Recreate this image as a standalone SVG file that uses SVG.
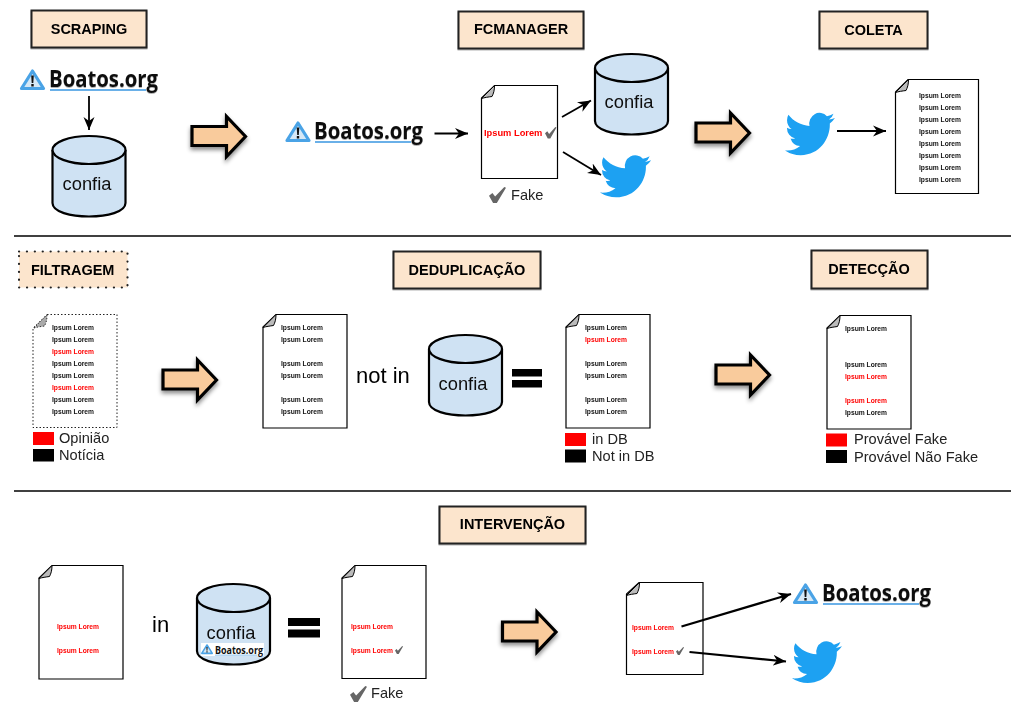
<svg xmlns="http://www.w3.org/2000/svg" width="1025" height="721" viewBox="0 0 1025 721">
<style>
text{font-family:"Liberation Sans",Arial,sans-serif;fill:#111}
.title{font-size:14.500px;font-weight:bold;text-anchor:middle;fill:#000;filter:url(#blur)}
.box{fill:#fce5cd;stroke:#222;stroke-width:2;filter:url(#soft)}
.dotted{fill:#fce5cd;stroke:#222;stroke-width:2.2;stroke-dasharray:.1 7.800;stroke-linecap:round}
.page{fill:#fff;stroke:#000;stroke-width:1.200}
.pagedot{fill:#fff;stroke:#222;stroke-width:1;stroke-dasharray:1.500 2}
.l{font-size:6.700px;font-weight:bold;fill:#111;filter:url(#blur)}
.r{font-size:6.700px;font-weight:bold;fill:#f00;filter:url(#blur)}
.leg{font-size:14.600px;fill:#222;filter:url(#blur)}
.logo{font-family:"Open Sans","Noto Sans",sans-serif;font-weight:bold;font-size:23px;fill:#111;filter:url(#soft)}
.db{font-size:18.300px;text-anchor:middle;fill:#111;filter:url(#blur)}
.big{font-size:22px;fill:#000;filter:url(#blur)}
.sep{stroke:#000;stroke-width:1.600}
.conn path{fill:none;stroke:#000;stroke-width:1.800;marker-end:url(#head)}
.conn .thick{stroke-width:2.200}
</style>
<defs>
<filter id="blur" x="-5%" y="-20%" width="110%" height="140%"><feGaussianBlur stdDeviation=".3"/></filter>
<filter id="soft" x="-20%" y="-20%" width="140%" height="150%"><feDropShadow dx="0" dy="1" stdDeviation=".7" flood-color="#000" flood-opacity=".3"/></filter>
<filter id="shadow" x="-20%" y="-20%" width="140%" height="150%"><feDropShadow dx="0" dy="3" stdDeviation="2" flood-color="#000" flood-opacity=".45"/></filter>
<marker id="head" markerUnits="userSpaceOnUse" markerWidth="16" markerHeight="12" refX="13" refY="6" orient="auto"><path d="M0,0.500 L13,6 L0,11.500 L4,6 Z" fill="#000"/></marker>
<g id="bigarrow"><path d="M0,10 H34.500 V0 L53.500,20 L34.500,40 V29 H0 Z" fill="#f9cb9c" stroke="#000" stroke-width="3.200" stroke-linejoin="miter" filter="url(#shadow)"/></g>
<g id="cyl"><path d="M0,14 V67 C0,85 73,85 73,67 V14" fill="#cfe2f3" stroke="#000" stroke-width="2.200"/><ellipse cx="36.500" cy="14" rx="36.500" ry="14" fill="#cfe2f3" stroke="#000" stroke-width="2.200"/></g>
<path id="fold" d="M0,13 L13,0 C13,5 12,8 10.500,11 C7,11.500 3,12 0,13 Z" fill="#bbb" stroke="#000" stroke-width="1"/>
<path id="folddot" d="M0,13 L13,0 C13,5 12,8 10.500,11 C7,11.500 3,12 0,13 Z" fill="#aaa" stroke="#333" stroke-width="1" stroke-dasharray="1.500 1.500"/>
<path id="bird" fill="#1da1f2" d="M23.953 4.570a10 10 0 01-2.825.775 4.958 4.958 0 002.163-2.723c-.951.555-2.005.959-3.127 1.184a4.920 4.920 0 00-8.384 4.482C7.690 8.095 4.067 6.130 1.640 3.162a4.822 4.822 0 00-.666 2.475c0 1.710.870 3.213 2.188 4.096a4.904 4.904 0 01-2.228-.616v.060a4.923 4.923 0 003.946 4.827 4.996 4.996 0 01-2.212.085 4.936 4.936 0 004.604 3.417 9.867 9.867 0 01-6.102 2.105c-.390 0-.779-.023-1.170-.067a13.995 13.995 0 007.557 2.209c9.053 0 13.998-7.496 13.998-13.985 0-.210 0-.420-.015-.630A9.935 9.935 0 0024 4.590z"/>
<g id="warn"><path d="M12.500,2 L23.500,19.500 H1.500 Z" fill="#d6e8f6" stroke="#4aa3e6" stroke-width="3.200" stroke-linejoin="round"/><path d="M11.200,6.500 H13.800 L13.300,14 H11.700 Z M11.300,15 H13.700 V17.500 H11.300 Z" fill="#111"/></g>
<path id="check" d="M0,.55 L.2,.38 L.36,.6 L.9,0 L1,.05 L.46,1 L.24,1 Z" fill="#666"/>
</defs>

<rect width="1025" height="721" fill="#fff"/>

<g id="separators"><line class="sep" x1="14" y1="236" x2="1011" y2="236"/><line class="sep" x1="14" y1="491" x2="1011" y2="491"/></g>

<g id="t-scraping"><rect class="box" x="31.500" y="10.500" width="115" height="37"/><text class="title" x="89" y="33.500">SCRAPING</text></g>
<g id="t-fcmanager"><rect class="box" x="458.500" y="11.500" width="125" height="37"/><text class="title" x="521" y="34">FCMANAGER</text></g>
<g id="t-coleta"><rect class="box" x="819.500" y="11.500" width="108" height="37"/><text class="title" x="873.500" y="35">COLETA</text></g>
<g id="t-filtragem"><rect class="dotted" x="19" y="251.500" width="108.500" height="36"/><text class="title" x="72.700" y="275">FILTRAGEM</text></g>
<g id="t-dedup"><rect class="box" x="393.500" y="251.500" width="147" height="37"/><text class="title" x="467" y="274.500">DEDUPLICAÇÃO</text></g>
<g id="t-detec"><rect class="box" x="811.500" y="250.500" width="116" height="38"/><text class="title" x="869" y="273.500">DETECÇÃO</text></g>
<g id="t-interv"><rect class="box" x="439.500" y="506.500" width="146" height="37"/><text class="title" x="512.500" y="529">INTERVENÇÃO</text></g>

<g id="logo1"><use href="#warn" x="20" y="69"/><text class="logo" x="49" y="87" textLength="109" lengthAdjust="spacingAndGlyphs">Boatos.org</text><rect x="50" y="89" width="96" height="2" fill="#6ab0e8"/></g>
<g id="logo2"><use href="#warn" x="285.500" y="121"/><text class="logo" x="314" y="139" textLength="109" lengthAdjust="spacingAndGlyphs">Boatos.org</text><rect x="315" y="141" width="96" height="2" fill="#6ab0e8"/></g>
<g id="logo3"><use href="#warn" x="793" y="583"/><text class="logo" x="822" y="601" textLength="109" lengthAdjust="spacingAndGlyphs">Boatos.org</text><rect x="823" y="603" width="96" height="2" fill="#6ab0e8"/></g>

<g id="db1"><use href="#cyl" x="52.500" y="136"/><text class="db" x="87" y="190">confia</text></g>
<g id="db2"><use href="#cyl" x="595" y="54"/><text class="db" x="629" y="108">confia</text></g>
<g id="db3"><use href="#cyl" x="429" y="335"/><text class="db" x="463" y="390">confia</text></g>
<g id="db4"><use href="#cyl" x="197" y="584"/><text class="db" x="231" y="639">confia</text>
<rect x="201" y="643" width="63" height="13" fill="#fff"/><use href="#warn" transform="translate(201,644) scale(.48)"/><text x="215" y="653.500" font-size="10.500" style="font-family:'Open Sans','Noto Sans',sans-serif;font-weight:bold" textLength="48" lengthAdjust="spacingAndGlyphs">Boatos.org</text><rect x="215" y="654.700" width="42" height=".8" fill="#6ab0e8"/></g>

<g id="bird1"><use href="#bird" transform="translate(600,150.500) scale(2.130,2.150)"/></g>
<g id="bird2"><use href="#bird" transform="translate(785,108) scale(2.080,2.170)"/></g>
<g id="bird3"><use href="#bird" transform="translate(792,636.500) scale(2.080,2.140)"/></g>

<g id="doc-fc"><path class="page" d="M494.500,85.500 H557.500 V178.500 H481.500 V98 Z"/><use href="#fold" x="481.500" y="85.500"/>
<text class="r" x="484" y="135.500" style="font-size:9.300px">Ipsum Lorem</text><use href="#check" transform="translate(545,127) scale(11.500)"/></g>
<g id="fake1"><use href="#check" transform="translate(489,187) scale(17,16)"/><text class="leg" x="511" y="200">Fake</text></g>

<g id="doc-coleta"><path class="page" d="M908,79.500 H978.500 V193.500 H895.500 V92 Z"/><use href="#fold" x="895.500" y="79.500"/>
<text class="l" x="919" y="98">Ipsum Lorem</text><text class="l" x="919" y="110">Ipsum Lorem</text><text class="l" x="919" y="122">Ipsum Lorem</text><text class="l" x="919" y="134">Ipsum Lorem</text><text class="l" x="919" y="146">Ipsum Lorem</text><text class="l" x="919" y="158">Ipsum Lorem</text><text class="l" x="919" y="170">Ipsum Lorem</text><text class="l" x="919" y="182">Ipsum Lorem</text></g>

<g id="doc-filtragem"><path class="pagedot" d="M47,314.500 H117 V427.500 H33 V328 Z"/><use href="#folddot" x="34" y="315"/>
<text class="l" x="52" y="330">Ipsum Lorem</text><text class="l" x="52" y="342">Ipsum Lorem</text><text class="r" x="52" y="354">Ipsum Lorem</text><text class="l" x="52" y="366">Ipsum Lorem</text><text class="l" x="52" y="378">Ipsum Lorem</text><text class="r" x="52" y="390">Ipsum Lorem</text><text class="l" x="52" y="402">Ipsum Lorem</text><text class="l" x="52" y="414">Ipsum Lorem</text></g>
<g id="legend-filtragem"><rect x="33" y="432" width="21" height="13" fill="#f00"/><text class="leg" x="59" y="443">Opinião</text><rect x="33" y="449" width="21" height="12.500" fill="#000"/><text class="leg" x="59" y="460">Notícia</text></g>

<g id="doc-dedup1"><path class="page" d="M276,314.500 H347 V428 H263 V327 Z"/><use href="#fold" x="263" y="314.500"/>
<text class="l" x="281" y="330">Ipsum Lorem</text><text class="l" x="281" y="342">Ipsum Lorem</text><text class="l" x="281" y="366">Ipsum Lorem</text><text class="l" x="281" y="378">Ipsum Lorem</text><text class="l" x="281" y="402">Ipsum Lorem</text><text class="l" x="281" y="414">Ipsum Lorem</text></g>
<g id="notin"><text class="big" x="356" y="383">not in</text></g>
<g id="eq1"><rect x="512" y="369" width="30" height="7.500" fill="#000"/><rect x="512" y="380" width="30" height="7.500" fill="#000"/></g>

<g id="doc-dedup2"><path class="page" d="M579,314.500 H650 V428 H566 V327 Z"/><use href="#fold" x="566" y="314.500"/>
<text class="l" x="585" y="330">Ipsum Lorem</text><text class="r" x="585" y="342">Ipsum Lorem</text><text class="l" x="585" y="366">Ipsum Lorem</text><text class="l" x="585" y="378">Ipsum Lorem</text><text class="l" x="585" y="402">Ipsum Lorem</text><text class="l" x="585" y="414">Ipsum Lorem</text></g>
<g id="legend-dedup"><rect x="565" y="433" width="21" height="13" fill="#f00"/><text class="leg" x="592" y="444">in DB</text><rect x="565" y="449.500" width="21" height="13" fill="#000"/><text class="leg" x="592" y="461">Not in DB</text></g>

<g id="doc-detec"><path class="page" d="M840,315.500 H911 V429 H827 V328 Z"/><use href="#fold" x="827" y="315.500"/>
<text class="l" x="845" y="331">Ipsum Lorem</text><text class="l" x="845" y="367">Ipsum Lorem</text><text class="r" x="845" y="379">Ipsum Lorem</text><text class="r" x="845" y="403">Ipsum Lorem</text><text class="l" x="845" y="415">Ipsum Lorem</text></g>
<g id="legend-detec"><rect x="826" y="433.500" width="21" height="13" fill="#f00"/><text class="leg" x="854" y="444">Provável Fake</text><rect x="826" y="450" width="21" height="13" fill="#000"/><text class="leg" x="854" y="461.700">Provável Não Fake</text></g>

<g id="doc-int1"><path class="page" d="M52,565.500 H123 V679 H39 V578 Z"/><use href="#fold" x="39" y="565.500"/>
<text class="r" x="57" y="629">Ipsum Lorem</text><text class="r" x="57" y="653">Ipsum Lorem</text></g>
<g id="in"><text class="big" x="152" y="632">in</text></g>
<g id="eq2"><rect x="288" y="618" width="32" height="8" fill="#000"/><rect x="288" y="629.500" width="32" height="8" fill="#000"/></g>

<g id="doc-int2"><path class="page" d="M355,565.500 H426 V678.500 H342 V578 Z"/><use href="#fold" x="342" y="565.500"/>
<text class="r" x="351" y="629">Ipsum Lorem</text><text class="r" x="351" y="653">Ipsum Lorem</text><use href="#check" transform="translate(395,646) scale(8)"/></g>
<g id="fake2"><use href="#check" transform="translate(350,686) scale(17,16)"/><text class="leg" x="371" y="698">Fake</text></g>

<g id="doc-int3"><path class="page" d="M639,582.500 H703 V674.500 H626.500 V594 Z"/><use href="#fold" x="626.500" y="582.500"/>
<text class="r" x="632" y="630">Ipsum Lorem</text><text class="r" x="632" y="654">Ipsum Lorem</text><use href="#check" transform="translate(676,647) scale(8)"/></g>

<g id="block-arrows">
<use href="#bigarrow" x="192" y="116.500"/><use href="#bigarrow" x="696" y="113"/><use href="#bigarrow" x="163" y="360"/><use href="#bigarrow" x="716" y="355"/><use href="#bigarrow" x="502.500" y="612"/>
</g>

<g id="connectors" class="conn">
<path d="M89,96 V130"/>
<path d="M434.500,133.500 H468"/>
<path d="M562,117 L591,100.500"/>
<path d="M563,152 L601,175"/>
<path d="M837,131 H886"/>
<path class="thick" d="M681.500,626.500 L791,594"/>
<path class="thick" d="M689.500,652 L786,661.500"/>
</g>
</svg>
